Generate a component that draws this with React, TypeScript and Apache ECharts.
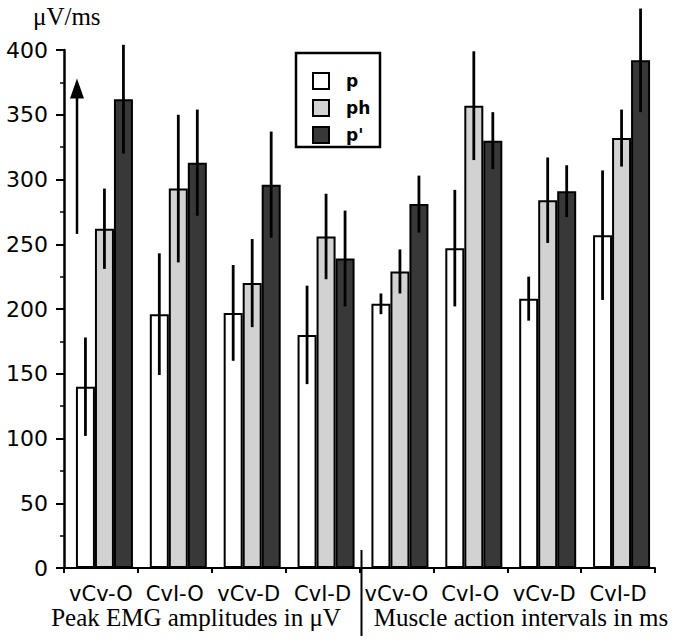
import React, { useEffect, useRef } from "react";
import * as echarts from "echarts";

const categories = ["vCv-O", "CvI-O", "vCv-D", "CvI-D", "vCv-O", "CvI-O", "vCv-D", "CvI-D"];
const seriesNames = ["p", "ph", "p'"];
const pMean = [140, 196, 197, 180, 204, 247, 208, 257];
const pSd = [38, 47, 37, 38, 8, 45, 17, 50];
const phMean = [262, 293, 220, 256, 229, 357, 284, 332];
const phSd = [31, 57, 34, 33, 17, 42, 33, 22];
const pPrimeMean = [362, 313, 296, 239, 281, 330, 291, 392];
const pPrimeSd = [42, 41, 41, 37, 22, 22, 20, 40];
const yTicks = { min: 0, max: 400, interval: 50 };
const arrowRange = [258, 378];
const groupTitles = ["Peak EMG amplitudes in \u03bcV", "Muscle action intervals in ms"];
const yUnit = "\u03bcV/ms";

const colors = ["#ffffff", "#d2d2d2", "#383838"];
const BAR_W = 19;
const PAD_W = 7;

export default function App() {
  const ref = useRef<HTMLDivElement>(null);
  useEffect(() => {
    document.body.style.margin = "0";
    if (!ref.current) return;
    const chart = echarts.init(ref.current, null, { renderer: "svg" });
    const means = [pMean, phMean, pPrimeMean];
    const sds = [pSd, phSd, pPrimeSd];
    const spacer = {
      name: "spacer",
      type: "bar",
      data: categories.map(() => null),
      barWidth: PAD_W,
      barGap: "0%",
      silent: true,
    };
    const barSeries = means.map((m, k) => ({
      name: seriesNames[k],
      type: "bar",
      data: m,
      barWidth: BAR_W,
      barGap: "0%",
      itemStyle: { color: colors[k], borderColor: "#000", borderWidth: 2 },
      z: 2,
    }));
    const shift = PAD_W / 2;
    const errSeries = means.map((m, k) => ({
      name: "err" + k,
      type: "custom",
      clip: false,
      z: 5,
      data: m.map((v, i) => [i, v - sds[k][i], v + sds[k][i]]),
      renderItem: (params: any, api: any) => {
        const i = api.value(0);
        const top = api.coord([i, api.value(2)]);
        const bot = api.coord([i, api.value(1)]);
        const x = top[0] + (k - 1) * BAR_W + shift;
        return {
          type: "line",
          shape: { x1: x, y1: top[1], x2: x, y2: bot[1] },
          style: { stroke: "#000", lineWidth: 2.8 },
        };
      },
    }));
    chart.setOption({
      animation: false,
      grid: { left: 64, right: 26, top: 50, bottom: 72 },
      legend: {
        data: seriesNames,
        orient: "vertical",
        left: 307,
        top: 67,
        itemWidth: 16,
        itemHeight: 16,
        itemGap: 9,
        icon: "rect",
        z: 10,
        textStyle: {
          fontFamily: "DejaVu Sans",
          fontWeight: "bold",
          fontSize: 17,
          color: "#000",
          padding: [0, 0, 0, 12],
        },
      },
      xAxis: {
        type: "category",
        data: categories,
        axisLine: { lineStyle: { color: "#000", width: 2 } },
        axisTick: { show: true, length: 5, lineStyle: { color: "#000", width: 2 } },
        axisLabel: {
          color: "#000",
          fontFamily: "DejaVu Sans",
          fontSize: 21,
          margin: 15,
          interval: 0,
        },
      },
      yAxis: {
        type: "value",
        min: yTicks.min,
        max: yTicks.max,
        interval: yTicks.interval,
        splitLine: { show: false },
        axisLine: { show: true, lineStyle: { color: "#000", width: 2.5 } },
        axisTick: { show: true, length: 8, lineStyle: { color: "#000", width: 2 } },
        minorTick: { show: true, splitNumber: 2, length: 4, lineStyle: { color: "#000", width: 1.5 } },
        axisLabel: { color: "#000", fontFamily: "DejaVu Sans", fontSize: 22, margin: 16 },
      },
      series: [spacer, ...barSeries, ...errSeries],
    });

    const ax = chart.convertToPixel({ gridIndex: 0 }, [0, 0]) as number[];
    const c0 = chart.convertToPixel({ xAxisIndex: 0 }, 0) as number;
    const c3 = chart.convertToPixel({ xAxisIndex: 0 }, 3) as number;
    const c4 = chart.convertToPixel({ xAxisIndex: 0 }, 4) as number;
    const step = c4 - c3;
    const axisX = c0 - step / 2;
    const divX = (c3 + c4) / 2;
    const arrowX = axisX + 13;
    const yLo = chart.convertToPixel({ yAxisIndex: 0 }, arrowRange[0]) as number;
    const yHi = chart.convertToPixel({ yAxisIndex: 0 }, arrowRange[1]) as number;
    const baseY = ax[1];

    chart.setOption({
      graphic: [
        {
          type: "rect",
          z: 1,
          shape: { x: 296, y: 53, width: 84, height: 94 },
          style: { fill: "#fff", stroke: "#000", lineWidth: 2.5 },
        },
        {
          type: "line",
          z: 5,
          shape: { x1: arrowX, y1: yLo, x2: arrowX, y2: yHi + 16 },
          style: { stroke: "#000", lineWidth: 2.5 },
        },
        {
          type: "polygon",
          z: 5,
          shape: { points: [[arrowX, yHi], [arrowX - 7, yHi + 20], [arrowX + 7, yHi + 20]] },
          style: { fill: "#000" },
        },
        {
          type: "line",
          z: 5,
          shape: { x1: divX + 2, y1: baseY - 18, x2: divX + 2, y2: 636 },
          style: { stroke: "#000", lineWidth: 2 },
        },
        {
          type: "text",
          x: 33,
          y: 4,
          style: { text: yUnit, font: "25px 'Liberation Serif'", fill: "#000" },
        },
        {
          type: "text",
          x: 196,
          y: 605,
          style: {
            text: groupTitles[0],
            font: "25px 'Liberation Serif'",
            fill: "#000",
            textAlign: "center",
          },
        },
        {
          type: "text",
          x: 521,
          y: 605,
          style: {
            text: groupTitles[1],
            font: "25px 'Liberation Serif'",
            fill: "#000",
            textAlign: "center",
          },
        },
      ],
    });
    return () => chart.dispose();
  }, []);
  return <div ref={ref} style={{ width: 681, height: 640 }} />;
}
